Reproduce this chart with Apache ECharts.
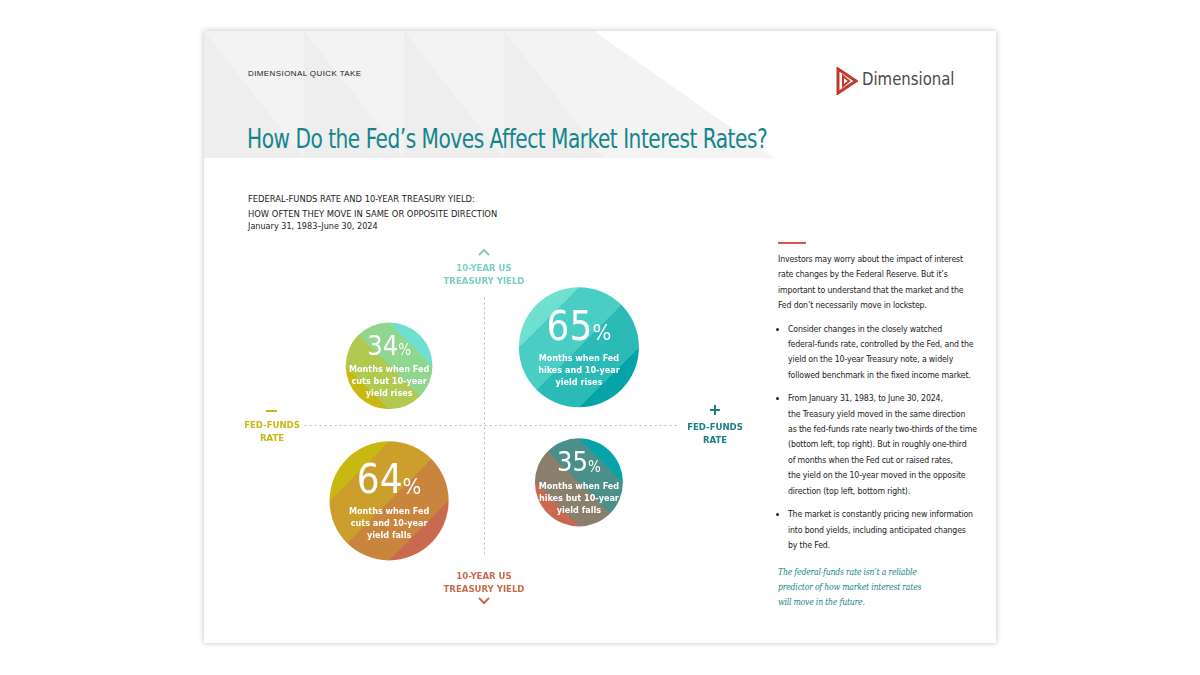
<!DOCTYPE html>
<html>
<head>
<meta charset="utf-8">
<script src="https://cdn.jsdelivr.net/npm/echarts@6/dist/echarts.min.js"></script>
<style>
  body { margin:0; width:1200px; height:675px; background:#fff; position:relative; overflow:hidden; font-family:"DejaVu Sans Condensed","DejaVu Sans",sans-serif; font-stretch:condensed; }
  #card { position:absolute; left:204px; top:31px; width:792px; height:612px; background:#fff; box-shadow:0 0 6px rgba(0,0,0,0.25); }
  .band { position:absolute; left:0; top:0; width:570px; height:127px; background:#f3f3f3; clip-path:polygon(0 0,390px 0,570px 127px,0 127px); }
  .tri { position:absolute; top:0; height:127px; background:#ebebeb; opacity:0.7; }
  .abs { position:absolute; }
  #chart { position:absolute; left:224px; top:240px; width:520px; height:370px; }
  .p { font-size:8.7px; line-height:15.4px; color:#222; letter-spacing:-0.15px; white-space:nowrap; }
  ul { margin:0; padding:0 0 0 10px; }
  li { margin-top:8px; padding-left:0px; }
</style>
</head>
<body>
<div id="card">
  <div class="band"></div>
  <div class="tri" style="left:0;width:100px;clip-path:polygon(0 0,100px 127px,0 127px);"></div>
  <div class="tri" style="left:100px;width:100px;clip-path:polygon(0 0,100px 127px,0 127px);"></div>
  <div class="tri" style="left:200px;width:100px;clip-path:polygon(0 0,100px 127px,0 127px);"></div>
  <div class="tri" style="left:300px;width:100px;clip-path:polygon(0 0,100px 127px,0 127px);"></div>
</div>
<div class="abs" style="left:248px;top:69px;font-family:'Liberation Sans';font-size:8px;letter-spacing:0.4px;color:#222;">DIMENSIONAL QUICK TAKE</div>
<svg class="abs" style="left:836px;top:67px" width="22" height="28" viewBox="0 0 22 28">
  <polygon points="2,2 20,14 2,26" fill="none" stroke="#c0392b" stroke-width="3"/>
  <polygon points="7,9 13,14 7,19" fill="none" stroke="#c0392b" stroke-width="2"/>
</svg>
<div class="abs" style="left:862px;top:68px;font-size:18px;color:#4a4a4a;transform:scaleX(0.92);transform-origin:left;">Dimensional</div>
<div class="abs" style="left:247px;top:123px;font-size:27px;color:#14868a;letter-spacing:-0.6px;white-space:nowrap;transform:scaleX(0.83);transform-origin:left;">How Do the Fed’s Moves Affect Market Interest Rates?</div>
<div class="abs" style="left:248px;top:192px;font-size:9.3px;line-height:14.5px;color:#222;">FEDERAL-FUNDS RATE AND 10-YEAR TREASURY YIELD:<br>HOW OFTEN THEY MOVE IN SAME OR OPPOSITE DIRECTION</div>
<div class="abs" style="left:248px;top:221px;font-size:9px;color:#222;">January 31, 1983–June 30, 2024</div>

<div class="abs" style="left:778px;top:242px;width:28px;height:1.5px;background:#d9534f;"></div>
<div class="abs p" style="left:778px;top:252px;">
  Investors may worry about the impact of interest<br>rate changes by the Federal Reserve. But it’s<br>important to understand that the market and the<br>Fed don’t necessarily move in lockstep.
  <ul>
    <li>Consider changes in the closely watched<br>federal-funds rate, controlled by the Fed, and the<br>yield on the 10-year Treasury note, a widely<br>followed benchmark in the fixed income market.</li>
    <li>From January 31, 1983, to June 30, 2024,<br>the Treasury yield moved in the same direction<br>as the fed-funds rate nearly two-thirds of the time<br>(bottom left, top right). But in roughly one-third<br>of months when the Fed cut or raised rates,<br>the yield on the 10-year moved in the opposite<br>direction (top left, bottom right).</li>
    <li>The market is constantly pricing new information<br>into bond yields, including anticipated changes<br>by the Fed.</li>
  </ul>
</div>
<div class="abs" style="left:778px;top:565px;font-family:'DejaVu Serif',serif;font-style:italic;font-size:8.6px;line-height:15px;color:#14868a;letter-spacing:-0.2px;white-space:nowrap;">The federal-funds rate isn’t a reliable<br>predictor of how market interest rates<br>will move in the future.</div>

<div id="chart"></div>
<script>
var quadX = [-1, 1, -1, 1];
var quadY = [1, 1, -1, -1];
var percents = [34, 65, 64, 35];
var captions = [
  'Months when Fed\ncuts but 10-year\nyield rises',
  'Months when Fed\nhikes and 10-year\nyield rises',
  'Months when Fed\ncuts and 10-year\nyield falls',
  'Months when Fed\nhikes but 10-year\nyield falls'
];
var stripeColors = [
  ['#6fe0cf', '#8fd68f', '#b1c94f', '#c8b912'],
  ['#6fe0cf', '#4acdc2', '#2bbab5', '#06a4a8'],
  ['#c8b912', '#cc9f2c', '#c9843d', '#c96a50'],
  ['#06a4a8', '#4a8f8a', '#8a7e6c', '#c96a50']
];

function stripes(cols, tl) {
  var stops = [];
  cols.forEach(function (c, i) {
    stops.push({ offset: i / 4 + 0.001, color: c });
    stops.push({ offset: (i + 1) / 4, color: c });
  });
  return tl ? new echarts.graphic.LinearGradient(0, 0, 1, 1, stops)
            : new echarts.graphic.LinearGradient(1, 0, 0, 1, stops);
}

var FONT = 'DejaVu Sans Condensed';
var offX = 0.365, offY = [0.32, 0.42, -0.41, -0.31];
var data = percents.map(function (v, i) {
  var big = v > 50;
  return {
    value: [quadX[i] * offX, offY[i], v],
    symbolSize: 120 * Math.sqrt(v / 65),
    itemStyle: { color: stripes(stripeColors[i], quadX[i] === quadY[i]), opacity: 1 },
    label: {
      show: true,
      formatter: '{n|' + v + '}{p|%}\n{c|' + captions[i].split('\n').join('}\n{c|') + '}',
      rich: {
        n: { fontSize: big ? 40 : 27, color: '#fff', fontFamily: FONT, fontWeight: 200, lineHeight: big ? 46 : 32 },
        p: { fontSize: big ? 22 : 15, color: '#fff', fontFamily: FONT, fontWeight: 200, padding: [big ? 10 : 7, 0, 0, 0] },
        c: { fontSize: 9, color: '#fff', fontWeight: 'bold', fontFamily: FONT, lineHeight: 12 }
      }
    }
  };
});

var chart = echarts.init(document.getElementById('chart'));
var dash = { color: '#bbb', type: [2, 3], width: 1 };
var axisTxt = function (x, y, text, color) {
  return { type: 'text', x: x, y: y, style: { text: text, align: 'center', fontSize: 9.5, lineHeight: 13, fontWeight: 'bold', fill: color, fontFamily: FONT } };
};
chart.setOption({
  animation: false,
  grid: { left: 0, right: 0, top: 0, bottom: 0 },
  xAxis: { type: 'value', min: -1, max: 1, show: false },
  yAxis: { type: 'value', min: -1, max: 1, show: false },
  series: [{
    type: 'scatter',
    symbol: 'circle',
    data: data,
    emphasis: { disabled: true },
    label: { position: 'inside', align: 'center' },
    markLine: {
      symbol: 'none', silent: true, label: { show: false }, lineStyle: dash,
      data: [
        [{ coord: [-0.69, 0] }, { coord: [0.75, 0] }],
        [{ coord: [0, 0.69] }, { coord: [0, -0.70] }]
      ]
    }
  }],
  graphic: [
    { type: 'polyline', shape: { points: [[255, 15], [260, 10], [265, 15]] }, style: { stroke: '#7ccfc4', lineWidth: 2, fill: null } },
    axisTxt(260, 22, '10-YEAR US\nTREASURY YIELD', '#7ccfc4'),
    axisTxt(260, 330, '10-YEAR US\nTREASURY YIELD', '#c96a50'),
    { type: 'polyline', shape: { points: [[255, 358], [260, 363], [265, 358]] }, style: { stroke: '#c96a50', lineWidth: 2, fill: null } },
    { type: 'rect', shape: { x: 42, y: 170, width: 11, height: 2 }, style: { fill: '#c8b912' } },
    axisTxt(48, 179, 'FED-FUNDS\nRATE', '#c8b912'),
    { type: 'rect', shape: { x: 486, y: 169, width: 10, height: 2 }, style: { fill: '#1a7f86' } },
    { type: 'rect', shape: { x: 490, y: 165, width: 2, height: 10 }, style: { fill: '#1a7f86' } },
    axisTxt(491, 181, 'FED-FUNDS\nRATE', '#1a7f86')
  ]
});
</script>
</body>
</html>
